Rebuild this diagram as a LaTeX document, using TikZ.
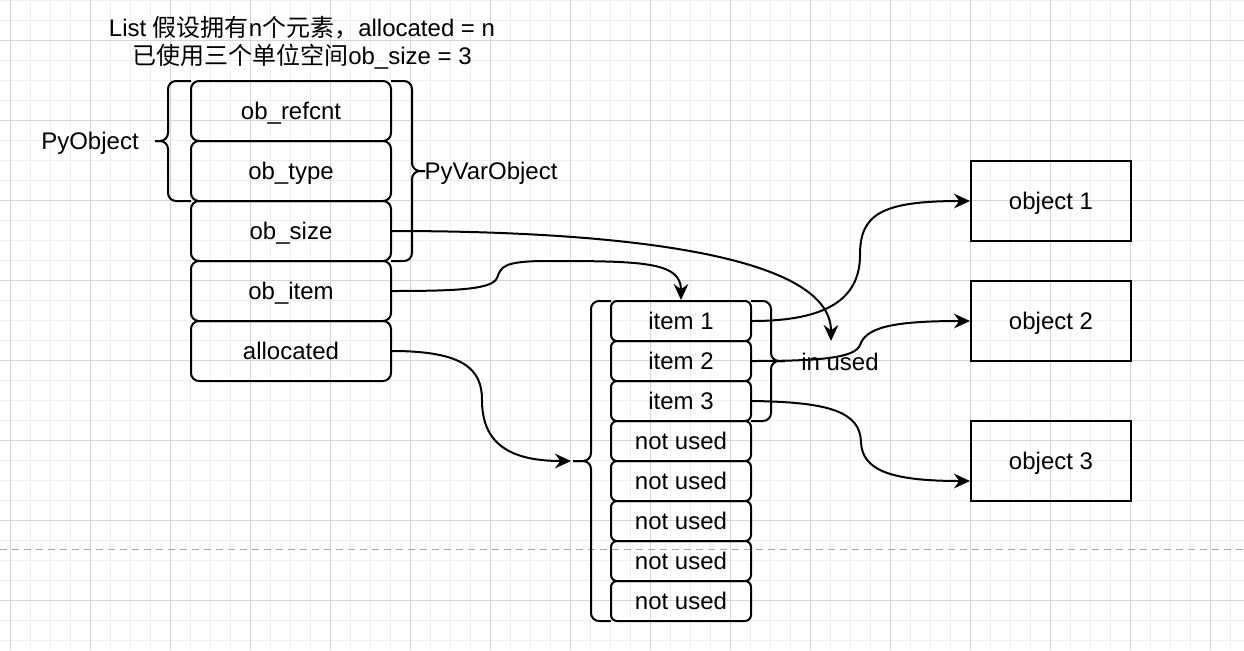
\documentclass[tikz,border=0pt]{standalone}
\usepackage{fontspec}
\setmainfont{Liberation Sans}
\newfontfamily\cjk{Noto Sans CJK SC}
\usetikzlibrary{arrows.meta}
\definecolor{gridminor}{HTML}{EEEEEE}
\definecolor{gridmajor}{HTML}{D4D4D4}
\definecolor{dashgray}{HTML}{A8A8A8}

\begin{document}
\begin{tikzpicture}[x=0.75pt, y=-0.75pt,
    every node/.style={font=\fontsize{18}{21}\selectfont},
    tag/.style={text height=12.9pt, text depth=0pt},
    field/.style={tag, draw, line width=1.5pt, rounded corners=6pt, minimum width=150pt, minimum height=45pt},
    slot/.style={tag, draw, line width=1.5pt, rounded corners=4.5pt, minimum width=105pt, minimum height=30pt},
    objbox/.style={tag, draw, line width=1.5pt, minimum width=120pt, minimum height=60pt},
    brace/.style={line width=1.5pt, rounded corners=6pt},
    link/.style={line width=1.5pt, -{Stealth[length=12pt, width=11pt, inset=4pt]}}]
    \useasboundingbox (0,0) rectangle (1244,650);
    \fill[white] (0,0) rectangle (1244,650);
    % background grid
    \foreach \gx in {10,30,...,1230} \draw[gridminor, line width=0.75pt] (\gx,0) -- (\gx,650);
    \foreach \gy in {0,20,...,640} \draw[gridminor, line width=0.75pt] (0,\gy) -- (1244,\gy);
    \foreach \gx in {10,90,...,1210} \draw[gridmajor, line width=0.75pt] (\gx,0) -- (\gx,650);
    \foreach \gy in {40,120,...,600} \draw[gridmajor, line width=0.75pt] (0,\gy) -- (1244,\gy);
    \draw[dashgray, line width=0.75pt, dash pattern=on 5pt off 4pt] (0,549) -- (1244,549);
    %
    \node[align=center] (title) at (302,43) {List {\cjk 假设拥有}n{\cjk 个元素，}allocated = n\\{\cjk 已使用三个单位空间}ob\_size = 3};
    %
    \node[field] (refcnt) at (291,111) {ob\_refcnt};
    \node[field] (type) at (291,171) {ob\_type};
    \node[field] (size) at (291,231) {ob\_size};
    \node[field] (item) at (291,291) {ob\_item};
    \node[field] (alloc) at (291,351) {allocated};
    \node[tag] (pyobj) at (90,141) {PyObject};
    \node[tag] (pyvarobj) at (491,171) {PyVarObject};
    \draw[brace] (191,81) -| (168,141) -- (155,141);
    \draw[brace] (191,201) -| (168,141) -- (155,141);
    \draw[brace] (391,81) -| (412,171) -- (425,171);
    \draw[brace] (391,261) -| (412,171) -- (425,171);
    %
    \node[slot] (item1) at (681,321) {item 1};
    \node[slot] (item2) at (681,361) {item 2};
    \node[slot] (item3) at (681,401) {item 3};
    \node[slot] (free1) at (681,441) {not used};
    \node[slot] (free2) at (681,481) {not used};
    \node[slot] (free3) at (681,521) {not used};
    \node[slot] (free4) at (681,561) {not used};
    \node[slot] (free5) at (681,601) {not used};
    \draw[brace] (611,301) -| (591,461) -- (573,461);
    \draw[brace] (611,621) -| (591,461) -- (573,461);
    \draw[brace] (751,301) -| (771,361) -- (785,361);
    \draw[brace] (751,421) -| (771,361) -- (785,361);
    \node[tag] (inused) at (840,362) {in used};
    \coordinate (usedtop) at (831,341);
    \coordinate (listtip) at (571,461);
    %
    \node[objbox] (obj1) at (1051,201) {object 1};
    \node[objbox] (obj2) at (1051,321) {object 2};
    \node[objbox] (obj3) at (1051,461) {object 3};
    %
    \draw[link] (size.east) .. controls (601,231) and (831,251) .. (usedtop);
    \draw[link] (item.east) .. controls (460,291) and (492,289) .. (497,278) .. controls (501,266) and (505,262) .. (540,261) .. controls (640,261) and (681,261) .. (item1.north);
    \draw[link] (alloc.east) .. controls (465,351) and (482,370) .. (482,400) .. controls (482,440) and (505,461) .. (listtip);
    \draw[link] (item1.east) .. controls (825,321) and (860,300) .. (860,255) .. controls (860,215) and (880,201) .. (obj1.west);
    \draw[link] (item2.east) .. controls (820,361) and (855,358) .. (860,345) .. controls (866,328) and (890,321) .. (obj2.west);
    \draw[link] (item3.east) .. controls (830,402) and (860,412) .. (861,442) .. controls (862,470) and (890,481) .. ([yshift=-15pt]obj3.west);
\end{tikzpicture}
\end{document}
